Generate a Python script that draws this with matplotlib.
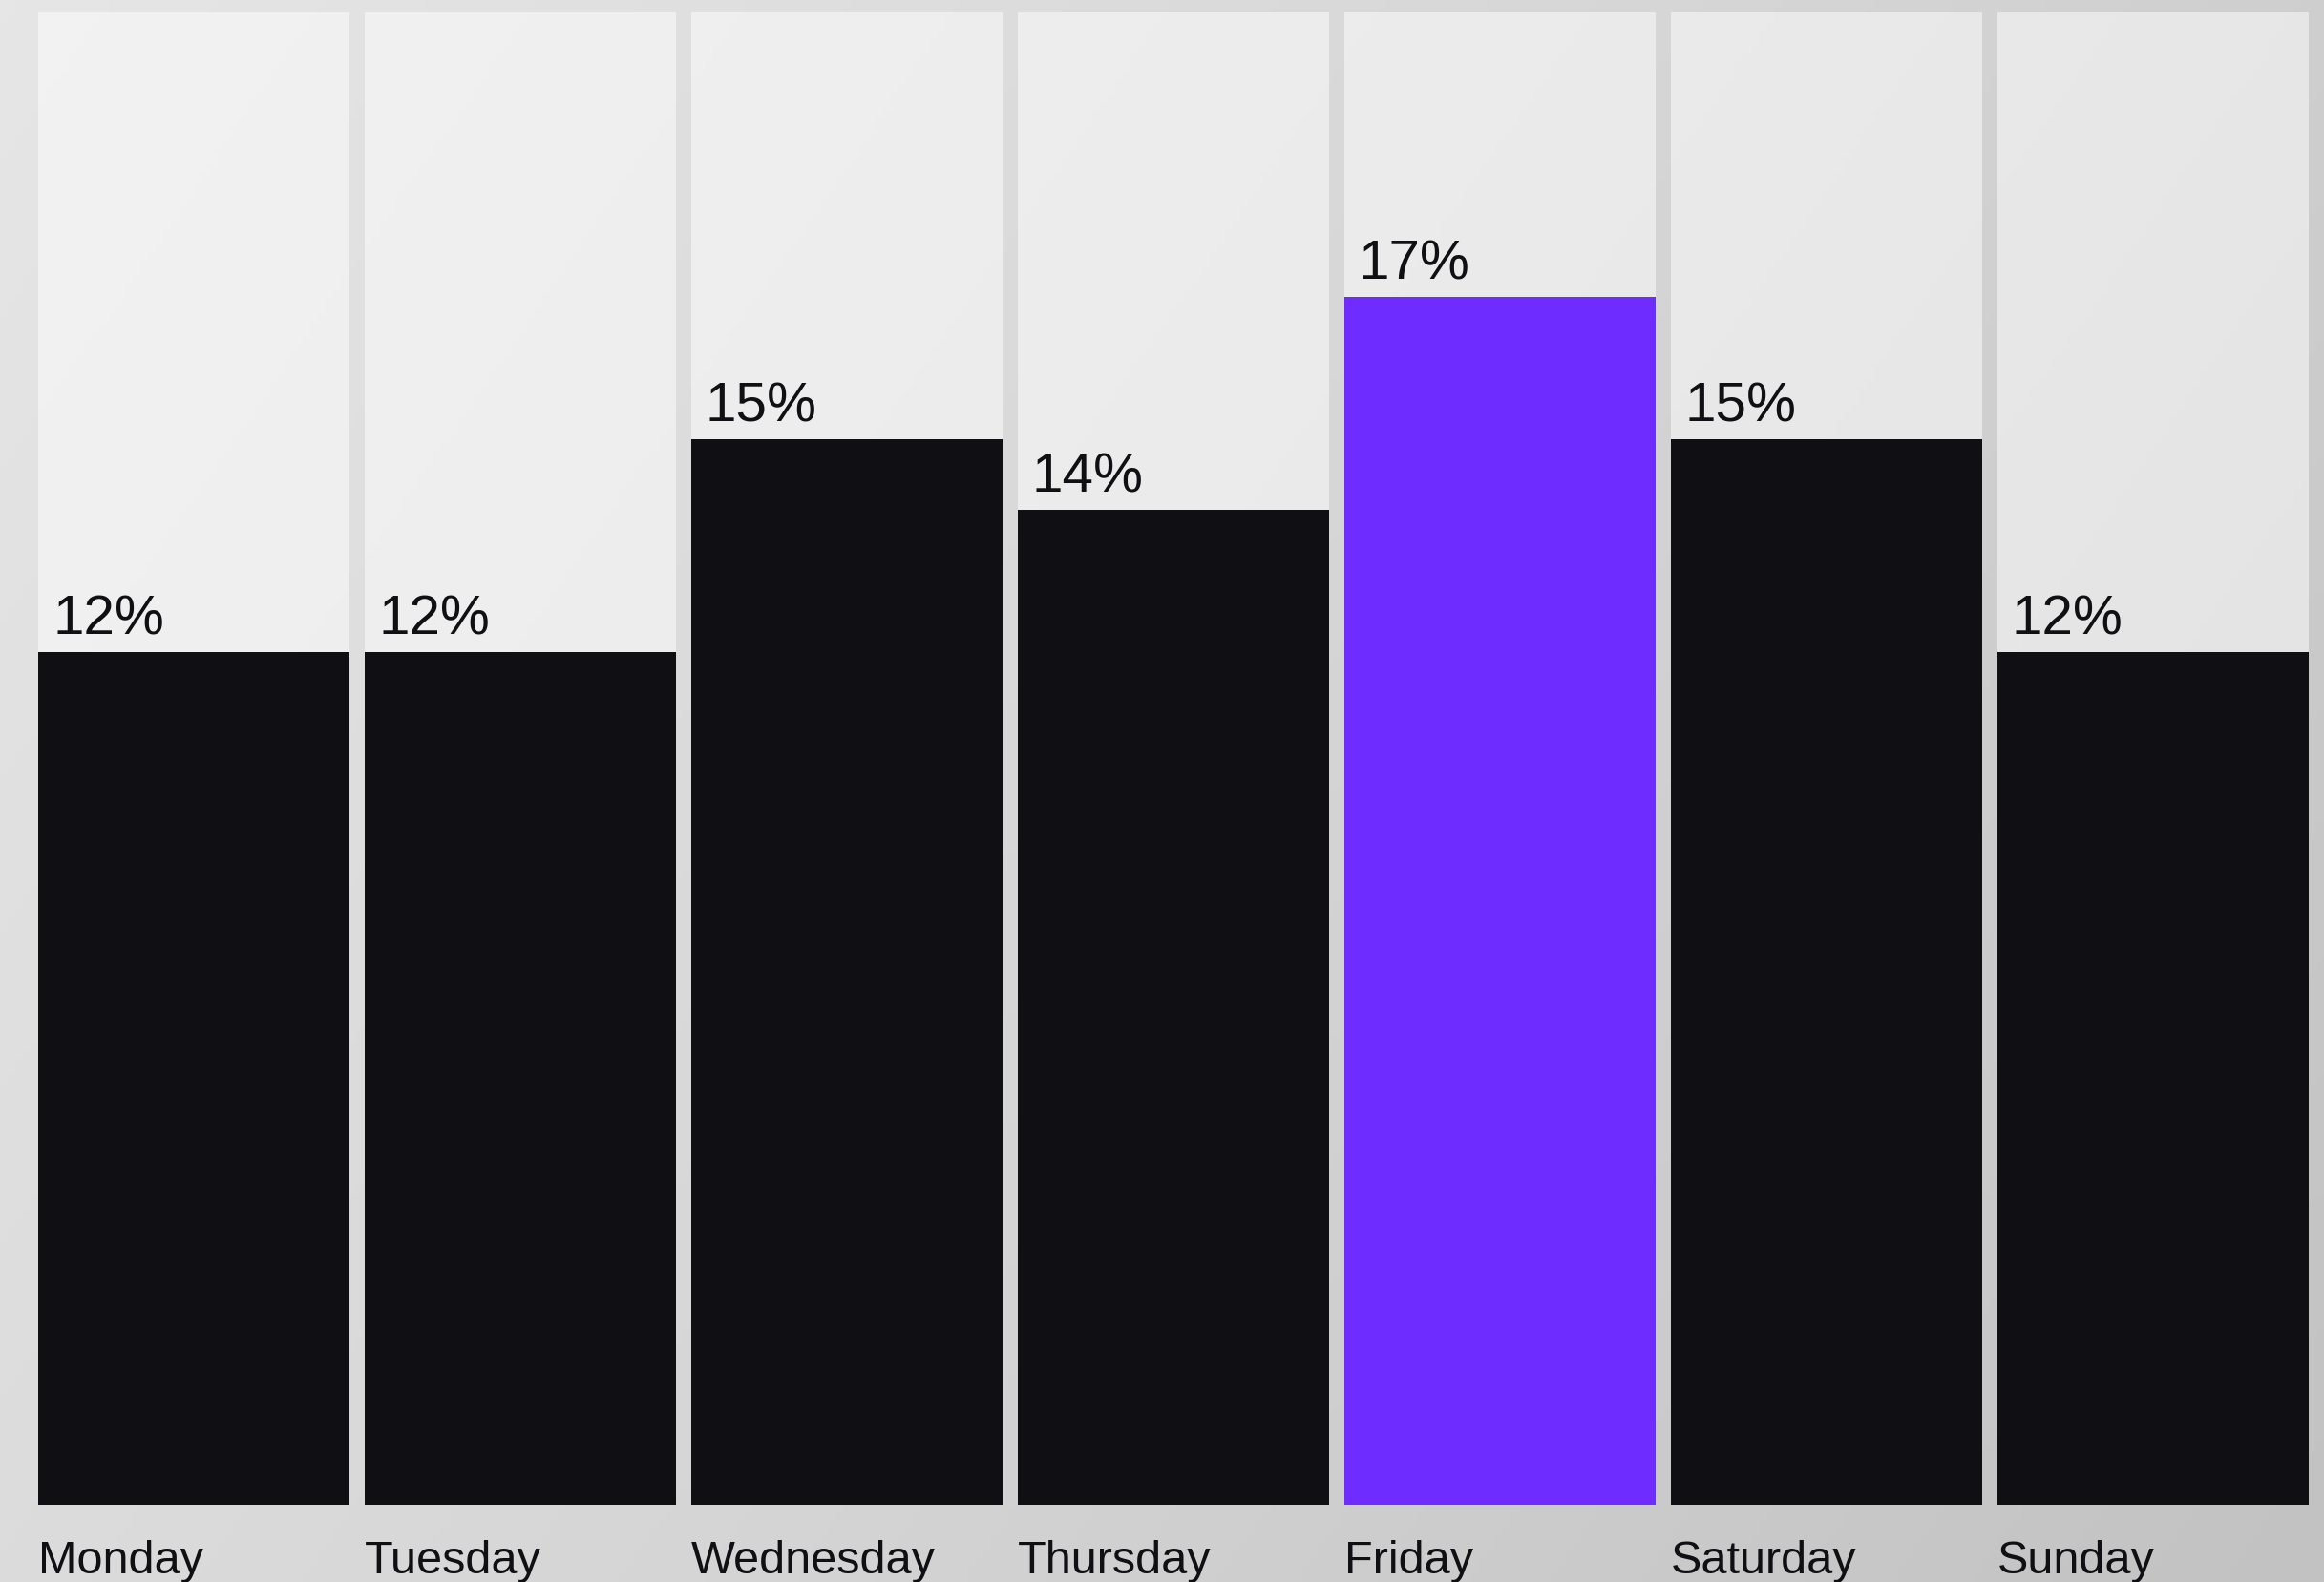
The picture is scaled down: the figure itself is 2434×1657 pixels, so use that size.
import numpy as np
import matplotlib
matplotlib.use("Agg")
import matplotlib.pyplot as plt
from matplotlib.colors import LinearSegmentedColormap

days = ["Monday", "Tuesday", "Wednesday", "Thursday", "Friday", "Saturday", "Sunday"]
values = [12, 12, 15, 14, 17, 15, 12]
highlight = "Friday"
y_max = 21

W, H = 2434, 1658
dpi = 100
fig = plt.figure(figsize=(W / dpi, H / dpi), dpi=dpi)

# background gradient
bg = fig.add_axes([0, 0, 1, 1], zorder=0)
yy, xx = np.mgrid[0:1:200j, 0:1:300j]
t = 0.75 * xx + 0.35 * yy
cmap = LinearSegmentedColormap.from_list("bg", ["#e6e6e6", "#d6d6d6", "#c2c2c2"])
bg.imshow(t, cmap=cmap, aspect="auto", extent=[0, 1, 0, 1], origin="upper", vmin=0, vmax=1.1)
bg.axis("off")

left_px, right_px = 40, 2418
bottom_px, top_px = 1577, 14
ax = fig.add_axes([left_px / W, (H - bottom_px) / H, (right_px - left_px) / W, (bottom_px - top_px) / H], zorder=1)
ax.patch.set_alpha(0)

bw = 326 / 342
x = np.arange(len(days))
ax.bar(x, [y_max] * len(days), width=bw, align="edge", color="white", alpha=0.5, linewidth=0)
colors = ["#6e2cff" if d == highlight else "#101014" for d in days]
ax.bar(x, values, width=bw, align="edge", color=colors, linewidth=0)

font = "Liberation Sans"
for i, (d, v) in enumerate(zip(days, values)):
    ax.annotate(f"{v}%", xy=(i, v), xytext=(15, 19), textcoords="offset pixels",
                ha="left", va="baseline", fontsize=42, color="#101014", family=font)
    ax.annotate(d, xy=(i, 0), xytext=(0, -71), textcoords="offset pixels",
                ha="left", va="baseline", fontsize=35, color="#101014", family=font,
                annotation_clip=False)

ax.set_xlim(0, len(days) - 1 + bw)
ax.set_ylim(0, y_max)
ax.axis("off")

fig.savefig("out.png", dpi=dpi)
